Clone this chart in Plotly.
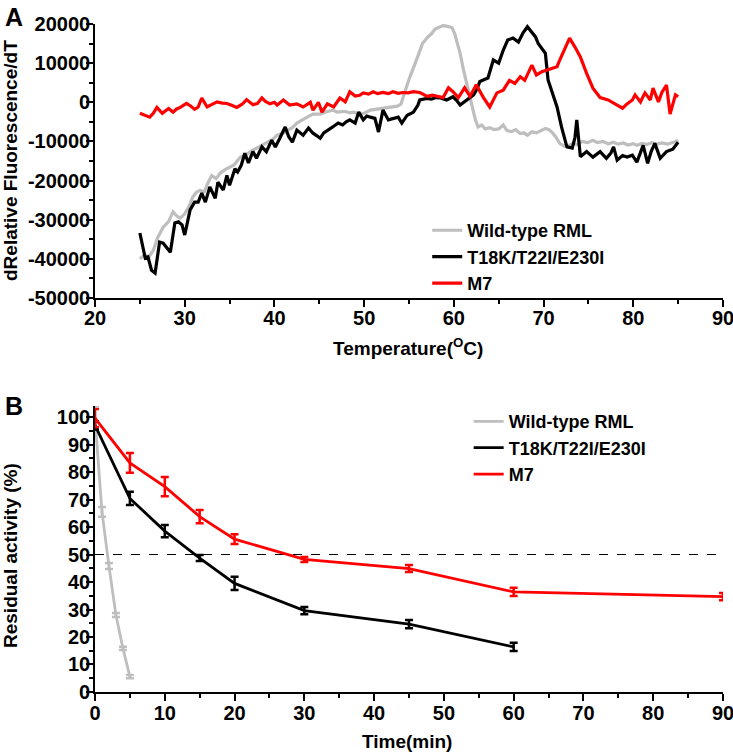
import plotly.graph_objects as go

# ---------------- Panel A: melting curves ----------------
wt_T = [25.0, 25.5, 26.0, 26.5, 27.0, 27.6, 28.2, 28.7, 29.1, 29.5, 30.0, 30.5, 30.9, 31.3, 31.7,
        32.2, 32.6, 33.0, 33.5, 34.0, 34.5, 35.0, 35.5, 36.2, 36.8, 37.4, 38.0, 38.6, 39.2, 39.8,
        40.3, 40.9, 41.4, 42.0, 42.5, 43.2, 43.8, 44.3, 45.1, 45.7, 46.5, 47.0, 47.8, 48.4, 48.8,
        49.5, 50.0, 50.7, 51.3, 52.0, 52.6, 53.2, 53.7, 54.1, 54.4, 54.8, 55.1, 55.4, 55.7, 56.1,
        56.5, 57.1, 57.5, 57.9, 58.4, 58.8, 59.3, 59.8, 60.1, 60.4, 60.7, 61.1, 61.5, 61.8, 62.1,
        62.4, 62.7, 63.1, 63.5, 64.0, 64.5, 65.0, 65.5, 65.9, 66.4, 66.9, 67.4, 67.8, 68.2, 68.7,
        69.2, 69.7, 70.2, 70.6, 71.0, 71.4, 71.8, 72.3, 72.8, 73.3, 73.8, 74.3, 74.9, 75.5, 76.0,
        76.6, 77.2, 77.8, 78.3, 78.9, 79.4, 80.0, 80.4, 81.0, 81.5, 82.1, 82.6, 83.2, 83.8, 84.4, 85.0]
wt_dF = [-40000, -39000, -39500, -37800, -34500, -31900, -30500, -28000, -29000, -29600, -28500,
         -26500, -24200, -23000, -22500, -22800, -20500, -18700, -19500, -18000, -17200, -16500,
         -16000, -14000, -13500, -12500, -11700, -11000, -10200, -9500, -8400, -8000, -7200, -6500,
         -5300, -4500, -3600, -3000, -3000, -2500, -2000, -2500, -2300, -2700, -2500, -3000, -2800,
         -2000, -1800, -1500, -1300, -1200, -1000, -500, 1400, 4500, 6500, 8500, 10000, 12500,
         15000, 16700, 17500, 18700, 19200, 19600, 19400, 19000, 17500, 15000, 12500, 8000, 4000,
         1000, -2000, -4500, -6300, -5800, -6800, -6500, -7000, -6800, -5800, -7200, -7500, -7000,
         -8000, -7800, -8400, -7500, -7800, -7200, -6700, -7000, -7800, -9000, -10500, -11200,
         -11000, -10500, -10800, -10000, -10300, -9700, -10300, -10000, -10600, -10200, -10700,
         -10400, -10900, -10600, -11000, -10500, -10800, -10300, -10700, -10400, -10700, -10300, -9700]

tri_T = [25.0, 25.3, 25.6, 25.9, 26.3, 26.7, 27.2, 27.6, 28.0, 28.4, 28.9, 29.3, 29.7, 30.0, 30.6,
         31.1, 31.5, 31.9, 32.3, 32.8, 33.4, 33.7, 34.3, 34.7, 35.0, 35.6, 35.9, 36.3, 36.7, 37.1,
         37.6, 38.0, 38.6, 39.1, 39.7, 40.1, 40.6, 41.2, 41.6, 42.0, 42.5, 43.2, 43.8, 44.3, 44.7,
         45.1, 45.5, 45.9, 46.5, 47.1, 47.6, 48.0, 48.4, 49.0, 49.4, 49.9, 50.3, 50.7, 51.2, 51.6,
         52.1, 52.7, 53.2, 53.8, 54.2, 54.8, 55.5, 56.0, 56.2, 56.6, 57.0, 57.5, 58.0, 58.5, 59.2,
         59.9, 60.3, 60.7, 61.1, 61.5, 61.8, 62.2, 62.6, 62.9, 63.4, 63.8, 64.1, 64.4, 65.0, 65.5,
         66.0, 66.6, 67.2, 67.7, 68.2, 68.7, 69.1, 69.4, 69.8, 70.2, 70.5, 70.9, 71.5, 72.0, 72.6,
         73.2, 73.5, 73.7, 74.1, 74.8, 75.5, 76.3, 77.0, 77.5, 77.8, 78.2, 78.8, 79.3, 79.9, 80.4,
         81.1, 81.6, 82.0, 82.4, 83.0, 83.7, 84.4, 85.0]
tri_dF = [-33400, -37000, -39800, -39500, -42900, -43600, -35700, -36000, -37000, -38300, -30800,
          -30500, -31300, -33900, -27500, -25500, -25500, -23200, -25500, -21600, -24500, -20400,
          -22400, -18700, -21200, -17000, -17800, -16100, -13000, -15500, -12600, -14300, -11400,
          -12600, -9700, -11400, -9200, -6300, -8800, -10200, -7100, -8400, -6600, -7900, -8500,
          -9200, -7800, -7100, -6300, -5300, -5800, -5000, -4500, -5300, -2500, -4500, -3500, -3800,
          -4100, -7600, -2000, -4500, -4100, -3800, -5300, -3300, -2500, -700, 600, 800, 1000, 800,
          1200, 1100, 600, 1400, 500, -700, 0, 600, 1200, 1900, 3500, 5300, 5800, 6200, 8500, 10800,
          10000, 13300, 15900, 16400, 15400, 17700, 19300, 17700, 16700, 15000, 13800, 12500, 5700,
          3100, -1200, -6300, -11400, -11700, -9000, -4500, -13900, -12600, -14000, -12600, -14300,
          -13000, -11400, -14800, -13600, -14000, -13500, -15300, -11000, -15600, -12500, -10500,
          -14300, -12600, -12000, -10200]

m7_T = [25.0, 25.5, 26.1, 26.5, 26.9, 27.5, 28.2, 28.7, 29.1, 29.5, 30.2, 30.7, 31.1, 31.5, 31.9,
        32.5, 33.0, 33.6, 34.2, 34.7, 35.3, 35.8, 36.4, 36.9, 37.6, 38.1, 38.6, 39.0, 39.5, 40.0,
        40.3, 41.0, 41.7, 42.5, 43.2, 44.0, 44.3, 44.9, 45.3, 45.9, 46.6, 47.3, 47.9, 48.4, 49.0,
        49.5, 49.9, 50.5, 51.0, 51.5, 52.1, 52.7, 53.2, 53.8, 54.3, 54.9, 55.5, 56.2, 56.6, 57.0,
        57.6, 58.1, 58.8, 59.4, 59.9, 60.5, 61.2, 61.8, 62.5, 63.3, 64.0, 64.8, 65.5, 66.2, 66.8,
        67.4, 67.9, 68.7, 69.2, 69.8, 70.4, 70.9, 71.5, 71.8, 72.4, 72.9, 73.5, 74.1, 74.8, 75.5,
        76.3, 77.2, 78.2, 78.8, 79.3, 79.9, 80.2, 80.8, 81.3, 81.9, 82.2, 82.8, 83.2, 83.7, 84.1,
        84.7, 85.0]
m7_dF = [-2800, -3200, -3800, -2800, -1300, -2800, -1600, -2500, -1700, -1300, -300, -1000, -1800,
         -1200, 1100, -1200, -600, 100, -200, -300, -800, -1300, -500, 700, -600, -300, 1100, 200,
         -400, 0, -700, 600, -700, -400, -1200, 0, -2000, 0, -2500, -400, -1200, 1100, 100, 2700,
         1600, 1800, 2400, 2100, 2700, 2200, 2500, 2200, 2700, 2300, 2500, 2400, 2700, 2500, 2000,
         1500, 1800, 1500, 1200, 3700, 2700, 1200, 3700, 1500, 4500, 1200, -1200, 2400, 3100, 5600,
         4800, 6500, 5600, 9500, 7000, 7800, 8300, 8700, 9100, 10800, 14100, 16400, 14100, 11600,
         7400, 3600, 1200, 600, -700, -1500, -400, 600, 1900, 100, 2400, 600, 3600, 100, 2600, 4400,
         -3000, 1900, 1400]

a_yticks = [-50000, -40000, -30000, -20000, -10000, 0, 10000, 20000]
a_ytext = ["-50000", "-40000", "-30000", "-20000", "-10000", "0", "10000", "20000"]
a_xticks = [20, 30, 40, 50, 60, 70, 80, 90]

# ---------------- Panel B: residual activity ----------------
wt_time = [0, 1, 2, 3, 4, 5]
wt_act = [99.8, 65.5, 45.8, 28.0, 15.9, 5.6]
wt_err = [4.2, 1.8, 1.1, 0.7, 0.6, 0.6]

tri_time = [0, 5, 10, 15, 20, 30, 45, 60]
tri_act = [97.0, 70.4, 58.5, 48.7, 39.5, 29.6, 24.7, 16.4]
tri_err = [1.5, 2.4, 2.2, 1.1, 2.4, 1.3, 1.5, 1.5]

m7_time = [0, 5, 10, 15, 20, 30, 45, 60, 90]
m7_act = [99.6, 83.3, 74.7, 63.8, 55.6, 48.2, 44.9, 36.4, 34.7]
m7_err = [3.3, 3.6, 3.5, 2.4, 1.8, 0.9, 1.3, 1.5, 1.3]

half_level = 50
b_yticks = [0, 10, 20, 30, 40, 50, 60, 70, 80, 90, 100]
b_xticks = [0, 10, 20, 30, 40, 50, 60, 70, 80, 90]

names = ["Wild-type RML", "T18K/T22I/E230I", "M7"]
colors = ["#BEBEBE", "#000000", "#FF0000"]

FONT = "Liberation Sans"
tickfont = dict(family=FONT, size=20, color="black", weight="bold")
xtitlefont = dict(family=FONT, size=19, color="black", weight="bold")
ytitlefont = dict(family=FONT, size=19, color="black", weight="bold")
legfont = dict(family=FONT, size=18, color="black", weight="bold")

fig = go.Figure()

for T, v, n, c in zip([wt_T, tri_T, m7_T], [wt_dF, tri_dF, m7_dF], names, colors):
    fig.add_trace(go.Scatter(x=T, y=v, mode="lines", name=n, line=dict(color=c, width=3.2),
                             xaxis="x", yaxis="y", legend="legend"))

for t, a, e, n, c in zip([wt_time, tri_time, m7_time], [wt_act, tri_act, m7_act],
                         [wt_err, tri_err, m7_err], names, colors):
    fig.add_trace(go.Scatter(x=t, y=a, mode="lines", name=n, line=dict(color=c, width=2.8),
                             error_y=dict(type="data", array=e, visible=True, color=c,
                                          thickness=2.5, width=4),
                             cliponaxis=False, xaxis="x2", yaxis="y2", legend="legend2"))

fig.add_shape(type="line", xref="x2", yref="y2", x0=b_xticks[0], x1=b_xticks[-1],
              y0=half_level, y1=half_level, line=dict(color="black", width=1, dash="dash"),
              layer="below")

axis_common = dict(showline=True, linecolor="black", linewidth=1.6, ticks="outside",
                   ticklen=7, tickwidth=1.6, tickcolor="black", showgrid=False, zeroline=False,
                   tickfont=tickfont, mirror=False, automargin=False, ticklabeloverflow="allow")
minor_common = dict(ticks="outside", ticklen=4, tickwidth=1.6, tickcolor="black", tick0=0)


def px_x(px):
    return (px - 95) / 628.0


def px_y(py):
    return (692 - py) / 668.0


fig.update_layout(
    width=733, height=752,
    margin=dict(l=95, r=10, t=24, b=60),
    paper_bgcolor="white", plot_bgcolor="white",
    xaxis=dict(domain=[0, 1], anchor="y", range=[20, 90], tickmode="array", tickvals=a_xticks,
               minor=dict(dtick=5, **minor_common), ticklabelstandoff=-6, **axis_common),
    yaxis=dict(domain=[0.5898, 1], anchor="x", range=[-50000, 20000], tickmode="array",
               tickvals=a_yticks, ticktext=a_ytext,
               minor=dict(dtick=5000, **minor_common), ticklabelstandoff=-8, **axis_common),
    xaxis2=dict(domain=[0, 1], anchor="y2", range=[0, 90], tickmode="array", tickvals=b_xticks,
                minor=dict(dtick=5, **minor_common), ticklabelstandoff=-5, **axis_common),
    yaxis2=dict(domain=[0, 0.4281], anchor="x2", range=[0, 104], tickmode="array",
                tickvals=b_yticks,
                minor=dict(dtick=5, **minor_common), ticklabelstandoff=-8, **axis_common),
    legend=dict(x=0.529, y=0.7185, xanchor="left", yanchor="top", bgcolor="rgba(0,0,0,0)",
                font=legfont, tracegroupgap=0),
    legend2=dict(x=0.595, y=0.4325, xanchor="left", yanchor="top", bgcolor="rgba(0,0,0,0)",
                 font=legfont, tracegroupgap=0),
    annotations=[
        dict(text="<b>A</b>", xref="paper", yref="paper", x=px_x(3), y=px_y(1), xanchor="left",
             yanchor="top", showarrow=False, font=dict(family=FONT, size=25, color="black")),
        dict(text="<b>B</b>", xref="paper", yref="paper", x=px_x(3), y=px_y(390),
             xanchor="left", yanchor="top", showarrow=False,
             font=dict(family=FONT, size=25, color="black")),
        dict(text="Temperature(<sup>O</sup>C)", xref="paper", yref="paper", x=px_x(408),
             y=px_y(347), xanchor="center", yanchor="middle", showarrow=False, font=xtitlefont),
        dict(text="Time(min)", xref="paper", yref="paper", x=px_x(407), y=px_y(741),
             xanchor="center", yanchor="middle", showarrow=False, font=xtitlefont),
        dict(text="dRelative Fluorescence/dT", xref="paper", yref="paper", x=px_x(10),
             y=px_y(161), xanchor="center", yanchor="middle", textangle=-90, showarrow=False,
             font=ytitlefont),
        dict(text="Residual activity (%)", xref="paper", yref="paper", x=px_x(10),
             y=px_y(556), xanchor="center", yanchor="middle", textangle=-90, showarrow=False,
             font=ytitlefont),
    ],
)

fig.write_html("out.html", config={"displayModeBar": False},
               post_script="document.body.style.margin='0';")
